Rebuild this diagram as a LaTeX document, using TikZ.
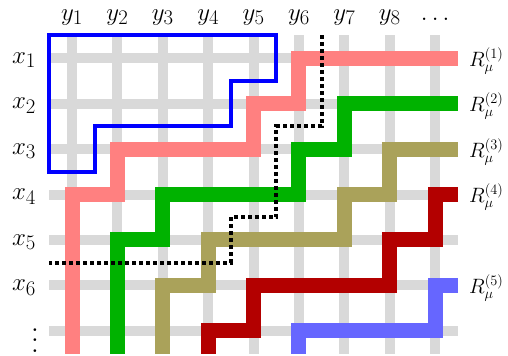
\documentclass[tikz,border=0pt]{standalone}
\usepackage{graphicx}
\definecolor{gridgray}{RGB}{217,217,217}
\definecolor{pathpink}{RGB}{255,128,128}
\definecolor{pathgreen}{RGB}{0,178,0}
\definecolor{patholive}{RGB}{170,162,90}
\definecolor{pathred}{RGB}{179,0,0}
\definecolor{pathperi}{RGB}{102,102,255}
\tikzset{
  gridline/.style={draw=gridgray,line width=10pt},
  rpath/.style={line width=15pt,line join=miter},
  youngbox/.style={draw=blue,line width=4pt,line join=miter},
  dotline/.style={draw=black,line width=4pt,dash pattern=on 4pt off 3pt},
  biglabel/.style={font=\fontsize{29}{30}\selectfont,inner sep=0pt},
  rlabel/.style={font=\fontsize{21}{23}\selectfont,inner sep=0pt,anchor=base west},
}
\begin{document}
\begin{tikzpicture}[x=45.4pt,y=-45.5pt]
\useasboundingbox (-0.586,-0.275) rectangle (10.604,7.549);
% grid
\foreach \c in {1,...,9} \draw[gridline] (\c,0.5) -- (\c,7.5);
\foreach \r in {1,...,7} \draw[gridline] (0.5,\r) -- (9.5,\r);
% paths
\draw[rpath,pathpink] (1,7.5) -- (1,4) -- (2,4) -- (2,3) -- (5,3) -- (5,2) -- (6,2) -- (6,1) -- (9.5,1);
\draw[rpath,pathgreen] (2,7.5) -- (2,5) -- (3,5) -- (3,4) -- (6,4) -- (6,3) -- (7,3) -- (7,2) -- (9.5,2);
\draw[rpath,patholive] (3,7.5) -- (3,6) -- (4,6) -- (4,5) -- (7,5) -- (7,4) -- (8,4) -- (8,3) -- (9.5,3);
\draw[rpath,pathred] (4,7.5) -- (4,7) -- (5,7) -- (5,6) -- (8,6) -- (8,5) -- (9,5) -- (9,4) -- (9.5,4);
\draw[rpath,pathperi] (6,7.5) -- (6,7) -- (9,7) -- (9,6) -- (9.5,6);
% young diagram outline
\draw[youngbox] (0.5,0.5) -- (5.5,0.5) -- (5.5,1.5) -- (4.5,1.5) -- (4.5,2.5) -- (1.5,2.5) -- (1.5,3.5) -- (0.5,3.5) -- cycle;
% dotted boundary
\draw[dotline] (6.5,0.5) -- (6.5,2.5) -- (5.5,2.5) -- (5.5,4.5) -- (4.5,4.5) -- (4.5,5.5) -- (0.5,5.5);
% column labels
\foreach \c in {1,...,8} \node[biglabel,anchor=base] (y\c) at (\c,0.165) {$y_{\c}$};
\node[biglabel,anchor=base] (ydots) at (9,0.165) {$\ldots$};
% row labels
\foreach \r in {1,...,6} \node[biglabel,anchor=base] (x\r) at (-0.057,\r+0.11) {$x_{\r}$};
\node[inner sep=0pt] (xdots) at (0.185,7.035) {\scalebox{2.6}{$\vdots$}};
% R labels
\node[rlabel] (R1) at (9.745,1.176) {$R_\mu^{(1)}$};
\node[rlabel] (R2) at (9.745,2.176) {$R_\mu^{(2)}$};
\node[rlabel] (R3) at (9.745,3.176) {$R_\mu^{(3)}$};
\node[rlabel] (R4) at (9.745,4.176) {$R_\mu^{(4)}$};
\node[rlabel] (R5) at (9.745,6.176) {$R_\mu^{(5)}$};
\end{tikzpicture}
\end{document}
